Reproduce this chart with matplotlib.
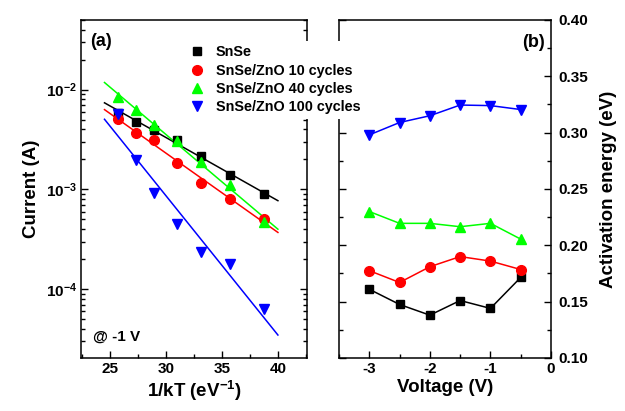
import numpy as np
import matplotlib
matplotlib.use("Agg")
import matplotlib.pyplot as plt
from matplotlib.ticker import LogLocator, FixedLocator, MultipleLocator, FuncFormatter, NullFormatter

plt.rcParams['font.family'] = ['Liberation Sans', 'DejaVu Sans']
plt.rcParams['font.weight'] = 'bold'
plt.rcParams['mathtext.fontset'] = 'custom'
plt.rcParams['mathtext.rm'] = 'Liberation Sans:bold'
plt.rcParams['mathtext.bf'] = 'Liberation Sans:bold'
plt.rcParams['mathtext.it'] = 'Liberation Sans:bold'

# ---- data: panel (a) ----
inv_kT = [25.74, 27.29, 28.96, 30.95, 33.13, 35.71, 38.72]
cur_snse = [5.9e-3, 4.71e-3, 3.98e-3, 3.16e-3, 2.15e-3, 1.39e-3, 9.05e-4]
cur_10 = [5.13e-3, 3.72e-3, 3.11e-3, 1.82e-3, 1.17e-3, 8.07e-4, 5.0e-4]
cur_40 = [8.4e-3, 6.3e-3, 4.47e-3, 3.09e-3, 1.89e-3, 1.10e-3, 4.7e-4]
cur_100 = [5.7e-3, 1.96e-3, 9.3e-4, 4.47e-4, 2.33e-4, 1.78e-4, 6.3e-5]
fit_range = [24.5, 40.0]

# ---- data: panel (b) ----
voltage = [-3.0, -2.5, -2.0, -1.5, -1.0, -0.5]
ea_snse = [0.161, 0.1475, 0.138, 0.151, 0.144, 0.1715]
ea_10 = [0.1775, 0.167, 0.181, 0.190, 0.186, 0.1785]
ea_40 = [0.230, 0.2195, 0.2195, 0.2165, 0.2195, 0.2055]
ea_100 = [0.298, 0.309, 0.315, 0.3245, 0.324, 0.3205]

labels = ['SnSe', 'SnSe/ZnO 10 cycles', 'SnSe/ZnO 40 cycles', 'SnSe/ZnO 100 cycles']
colors = ['#000000', '#FF0000', '#00FF00', '#0000FF']
markers = ['s', 'o', '^', 'v']
msizes = [6, 7, 7.5, 7.5]

fig = plt.figure(figsize=(6.25, 4.11), dpi=100)
axa = fig.add_axes([0.1296, 0.129, 0.3616, 0.8224])
axb = fig.add_axes([0.5424, 0.129, 0.3392, 0.8224])

handles = []
for ys, c, m, ms, lab in zip([cur_snse, cur_10, cur_40, cur_100], colors, markers, msizes, labels):
    h, = axa.plot(inv_kT, ys, linestyle='none', marker=m, color=c, markersize=ms, label=lab, zorder=3)
    handles.append(h)
    p = np.polyfit(inv_kT, np.log10(ys), 1)
    xf = np.array(fit_range)
    axa.plot(xf, 10 ** np.polyval(p, xf), color=c, lw=1.1, zorder=2)

axa.set_yscale('log')
axa.set_xlim(22.4, 42.6)
axa.set_ylim(2.04e-5, 5.0e-2)
axa.xaxis.set_major_locator(MultipleLocator(5))
axa.xaxis.set_minor_locator(MultipleLocator(2.5))
axa.yaxis.set_major_locator(FixedLocator([1e-4, 1e-3, 1e-2]))
axa.yaxis.set_minor_locator(LogLocator(base=10, subs=np.arange(2, 10)))
axa.yaxis.set_minor_formatter(NullFormatter())
axa.yaxis.set_major_formatter(FuncFormatter(lambda v, pos: r'$\mathbf{10^{%d}}$' % int(round(np.log10(v)))))
axa.set_xlabel(r'1/kT (eV$^{\mathbf{-1}}$)', fontsize=13.5, fontweight='bold', labelpad=2)
axa.set_ylabel('Current (A)', fontsize=13.5, fontweight='bold', labelpad=4)
axa.tick_params(which='both', direction='in', top=False, right=True, width=1, labelsize=11, pad=3)
axa.tick_params(which='major', length=5)
axa.tick_params(which='minor', length=3)
axa.text(0.04, 0.935, '(a)', transform=axa.transAxes, fontsize=13, fontweight='bold', va='center', ha='left')
axa.text(0.053, 0.062, '@ -1 V', transform=axa.transAxes, fontsize=11, fontweight='bold', va='center', ha='left')

for ys, c, m, ms in zip([ea_snse, ea_10, ea_40, ea_100], colors, markers, msizes):
    axb.plot(voltage, ys, color=c, marker=m, markersize=ms, lw=1.1)
axb.set_xlim(-3.5, 0)
axb.set_ylim(0.10, 0.40)
axb.xaxis.set_major_locator(MultipleLocator(1))
axb.xaxis.set_minor_locator(MultipleLocator(0.5))
axb.yaxis.set_major_locator(MultipleLocator(0.05))
axb.yaxis.set_minor_locator(MultipleLocator(0.025))
axb.yaxis.set_major_formatter(FuncFormatter(lambda v, pos: '%.2f' % v))
axb.xaxis.set_major_formatter(FuncFormatter(lambda v, pos: '%d' % int(round(v))))
axb.yaxis.tick_right()
axb.yaxis.set_label_position('right')
axb.tick_params(which='both', direction='in', top=False, left=True, right=True, labelleft=False, labelright=True, width=1, labelsize=11, pad=3)
axb.tick_params(axis='y', which='both', pad=5)
axb.tick_params(which='major', length=5)
axb.tick_params(which='minor', length=3)
axb.set_xlabel('Voltage (V)', fontsize=13.5, fontweight='bold', labelpad=2)
axb.set_ylabel('Activation energy (eV)', fontsize=13.5, fontweight='bold', labelpad=9)
axb.text(0.972, 0.932, '(b)', transform=axb.transAxes, fontsize=13, fontweight='bold', va='center', ha='right')

for ax in (axa, axb):
    for s in ax.spines.values():
        s.set_linewidth(1.1)
    for t in ax.get_xticklabels() + ax.get_yticklabels():
        t.set_fontweight('bold')

leg = fig.legend(handles=handles, loc='upper left', bbox_to_anchor=(184 / 625, 1 - 41 / 411),
                 frameon=True, facecolor='white', edgecolor='none', framealpha=1.0,
                 prop={'weight': 'bold', 'size': 10.4}, handlelength=1.2, handletextpad=0.7,
                 labelspacing=0.3, borderpad=0.3, borderaxespad=0)
leg.set_zorder(10)

fig.savefig('out.png', dpi=100)
